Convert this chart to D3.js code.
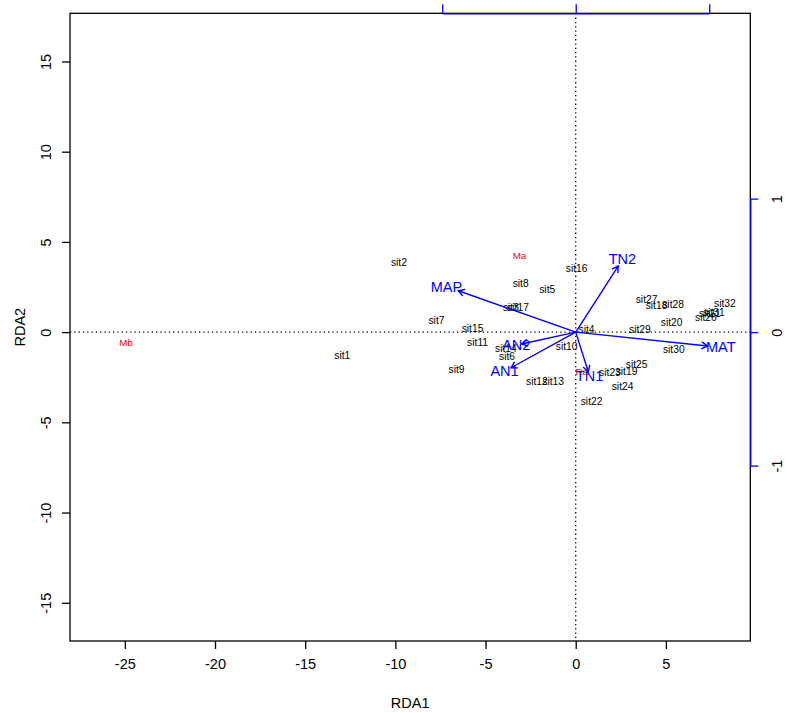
<!DOCTYPE html>
<html>
<head>
<meta charset="utf-8">
<script src="https://cdn.jsdelivr.net/npm/d3@7"></script>
<style>
	body { margin: 0; background: #fff; }
	svg text { font-family: "Liberation Sans", Arial, sans-serif; }
</style>
</head>
<body>
<div id="rda-plot"></div>
<script>

// site scores (RDA1, RDA2)
const siteNames = ["sit1","sit2","sit3","sit4","sit5","sit6","sit7","sit8","sit9","sit10",
	"sit11","sit12","sit13","sit14","sit15","sit16","sit17","sit18","sit19","sit20",
	"sit21","sit22","sit23","sit24","sit25","sit26","sit27","sit28","sit29","sit30","sit31","sit32"];
const siteX = [-12.94,-9.80,-3.59,0.60,-1.58,-3.81,-7.72,-3.05,-6.61,-0.50,
	-5.44,-2.15,-1.25,-3.87,-5.72,0.05,-3.20,4.48,2.82,5.32,
	7.44,0.88,1.90,2.60,3.38,7.22,3.93,5.40,3.56,5.44,7.66,8.27];
const siteY = [-1.27,3.85,1.37,0.16,2.35,-1.36,0.63,2.68,-2.07,-0.81,
	-0.59,-2.75,-2.71,-0.90,0.19,3.54,1.37,1.50,-2.17,0.54,
	1.03,-3.86,-2.23,-3.04,-1.81,0.82,1.82,1.54,0.17,-0.95,1.11,1.61];

// species scores
const speciesNames = ["Ma","Mb","Ra"];
const speciesX = [-3.12,-24.93,0.33];
const speciesY = [4.27,-0.60,-2.16];

// biplot arrows (environmental variables)
const envNames = ["MAP","AN2","AN1","TN1","TN2","MAT"];
const envX = [-0.880,-0.405,-0.485,0.094,0.318,0.988];
const envY = [0.310,-0.089,-0.267,-0.297,0.495,-0.104];

const xTicks = [-25,-20,-15,-10,-5,0,5];
const yTicks = [-15,-10,-5,0,5,10,15];
const bipTicks = [-1,0,1];

class RdaBiplot {

	constructor(parentElement){
		this.parentElement = parentElement;
		this.initVis();
	}

	initVis(){
		let vis = this;

		vis.width = 787;
		vis.height = 713;
		vis.box = {left: 70, right: 750.3, top: 13.3, bottom: 641};

		// R style labels: plain hyphen minus
		let fmt = d => String(d);

		vis.svg = d3.select("#" + vis.parentElement).append("svg")
			.attr("width", vis.width)
			.attr("height", vis.height);

		// equal aspect scales
		vis.x = d3.scaleLinear()
			.domain([-28.04, 9.68])
			.range([vis.box.left, vis.box.right]);

		vis.y = d3.scaleLinear()
			.domain([17.67, -17.12])
			.range([vis.box.top, vis.box.bottom]);

		// biplot arrow scales (blue axes)
		let x0 = vis.x(0), y0 = vis.y(0), unit = 133.5;
		vis.bx = d3.scaleLinear().domain([-1, 1]).range([x0 - unit, x0 + unit]);
		vis.by = d3.scaleLinear().domain([1, -1]).range([y0 - unit, y0 + unit]);

		// dotted zero lines
		vis.svg.append("line")
			.attr("x1", vis.box.left).attr("x2", vis.box.right)
			.attr("y1", y0).attr("y2", y0)
			.attr("stroke", "#000").attr("stroke-dasharray", "1.3,3").attr("stroke-width", 1.3);
		vis.svg.append("line")
			.attr("x1", x0).attr("x2", x0)
			.attr("y1", vis.box.top).attr("y2", vis.box.bottom)
			.attr("stroke", "#000").attr("stroke-dasharray", "1.3,3").attr("stroke-width", 1.3);

		// frame
		vis.svg.append("rect")
			.attr("x", vis.box.left).attr("y", vis.box.top)
			.attr("width", vis.box.right - vis.box.left)
			.attr("height", vis.box.bottom - vis.box.top)
			.attr("fill", "none").attr("stroke", "#000").attr("stroke-width", 1.3);

		// bottom axis
		vis.xAxis = d3.axisBottom(vis.x).tickValues(xTicks).tickFormat(fmt).tickSize(8).tickPadding(10).tickSizeOuter(0);
		let gx = vis.svg.append("g")
			.attr("transform", "translate(0," + vis.box.bottom + ")")
			.call(vis.xAxis);
		gx.select(".domain").remove();
		gx.selectAll("line").attr("stroke-width", 1.3);
		gx.selectAll("text").attr("font-size", 14.5).attr("fill", "#000")
			.attr("font-family", "Liberation Sans, Arial, sans-serif");

		// left axis, labels parallel to axis
		vis.yAxis = d3.axisLeft(vis.y).tickValues(yTicks).tickFormat(fmt).tickSize(8).tickSizeOuter(0);
		let gy = vis.svg.append("g")
			.attr("transform", "translate(" + vis.box.left + ",0)")
			.call(vis.yAxis);
		gy.select(".domain").remove();
		gy.selectAll("line").attr("stroke-width", 1.3);
		gy.selectAll("text")
			.attr("x", null).attr("dy", null)
			.attr("transform", "translate(-24,0) rotate(-90)")
			.attr("text-anchor", "middle")
			.attr("dominant-baseline", "central")
			.attr("font-size", 14.5).attr("fill", "#000")
			.attr("font-family", "Liberation Sans, Arial, sans-serif");

		// top blue axis (labels fall outside the picture)
		let gt = vis.svg.append("g")
			.attr("transform", "translate(0," + vis.box.top + ")")
			.call(d3.axisTop(vis.bx).tickValues(bipTicks).tickSize(9).tickSizeOuter(0).tickFormat(""));
		gt.selectAll("path, line").attr("stroke", "#0000ff").attr("stroke-width", 1.3);

		// right blue axis
		let gr = vis.svg.append("g")
			.attr("transform", "translate(" + vis.box.right + ",0)")
			.call(d3.axisRight(vis.by).tickValues(bipTicks).tickFormat(fmt).tickSize(8).tickSizeOuter(0));
		gr.selectAll("path, line").attr("stroke", "#0000ff").attr("stroke-width", 1.3);
		gr.selectAll("text")
			.attr("x", null).attr("dy", null)
			.attr("transform", "translate(27,0) rotate(-90)")
			.attr("text-anchor", "middle")
			.attr("dominant-baseline", "central")
			.attr("font-size", 14.5).attr("fill", "#000")
			.attr("font-family", "Liberation Sans, Arial, sans-serif");

		// axis titles
		vis.svg.append("text")
			.attr("x", (vis.box.left + vis.box.right) / 2)
			.attr("y", 703)
			.attr("text-anchor", "middle").attr("dominant-baseline", "central")
			.attr("font-size", 14.5)
			.text("RDA1");
		vis.svg.append("text")
			.attr("transform", "translate(20," + ((vis.box.top + vis.box.bottom) / 2) + ") rotate(-90)")
			.attr("text-anchor", "middle").attr("dominant-baseline", "central")
			.attr("font-size", 14.5)
			.text("RDA2");

		// sites
		vis.svg.append("g").selectAll("text")
			.data(siteNames)
			.enter().append("text")
			.attr("x", (d, i) => vis.x(siteX[i]))
			.attr("y", (d, i) => vis.y(siteY[i]))
			.attr("text-anchor", "middle").attr("dominant-baseline", "central")
			.attr("font-size", 10.3).attr("fill", "#000")
			.text(d => d);

		// species
		vis.svg.append("g").selectAll("text")
			.data(speciesNames)
			.enter().append("text")
			.attr("x", (d, i) => vis.x(speciesX[i]))
			.attr("y", (d, i) => vis.y(speciesY[i]))
			.attr("text-anchor", "middle").attr("dominant-baseline", "central")
			.attr("font-size", 9.8).attr("fill", "#ff0000")
			.text(d => d);

		// arrows with open heads
		let head = 7, ang = Math.PI / 6;
		let ga = vis.svg.append("g").attr("stroke", "#0000ff").attr("stroke-width", 1.4).attr("fill", "none");
		envNames.forEach(function(name, i){
			let tx = vis.bx(envX[i]), ty = vis.by(envY[i]);
			let a = Math.atan2(ty - y0, tx - x0);
			ga.append("line")
				.attr("x1", x0).attr("y1", y0).attr("x2", tx).attr("y2", ty);
			ga.append("path")
				.attr("d", "M" + (tx - head * Math.cos(a - ang)) + "," + (ty - head * Math.sin(a - ang)) +
					"L" + tx + "," + ty +
					"L" + (tx - head * Math.cos(a + ang)) + "," + (ty - head * Math.sin(a + ang)));
		});

		vis.svg.append("g").selectAll("text")
			.data(envNames)
			.enter().append("text")
			.attr("x", (d, i) => vis.bx(envX[i] * 1.1))
			.attr("y", (d, i) => vis.by(envY[i] * 1.1))
			.attr("text-anchor", "middle").attr("dominant-baseline", "central")
			.attr("font-size", 14.5).attr("fill", "#0000ff")
			.text(d => d);
	}
}

new RdaBiplot("rda-plot");

</script>
</body>
</html>
